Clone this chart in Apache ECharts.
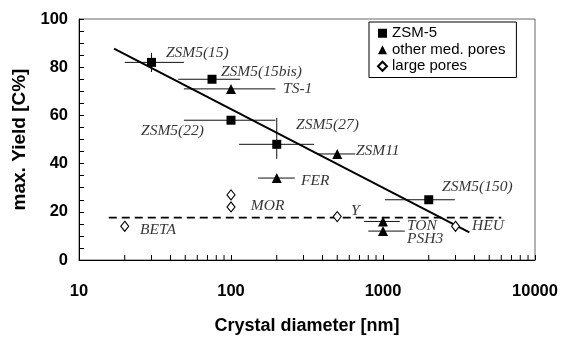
<!DOCTYPE html>
<html>
<head>
<meta charset="utf-8">
<script src="https://cdn.jsdelivr.net/npm/echarts@6/dist/echarts.min.js"></script>
<style>
  html, body { margin: 0; padding: 0; background: #fff; }
  #chart { width: 562px; height: 340px; }
</style>
</head>
<body>
<div id="chart"></div>
<script>
// ---- Data ----
const xTickLabels = [10, 100, 1000, 10000];
const yTickLabels = [0, 20, 40, 60, 80, 100];
const xMinorTicks = [20, 30, 40, 50, 60, 70, 80, 90, 200, 300, 400, 500, 600, 700, 800, 900, 2000, 3000, 4000, 5000, 6000, 7000, 8000, 9000];

// ZSM-5
const zsm5Names = ['ZSM5(15)', 'ZSM5(15bis)', 'ZSM5(22)', 'ZSM5(27)', 'ZSM5(150)'];
const zsm5X = [30, 75, 100, 200, 2000];
const zsm5Y = [82, 75, 58, 48, 25];
const zsm5XLow = [20, 45, 49, 113, 1030];
const zsm5XHigh = [49, 115, 196, 352, 2970];
const zsm5YLow = [78, null, null, 42, null];
const zsm5YHigh = [86, null, null, 59, null];

// other medium pores
const medNames = ['TS-1', 'FER', 'ZSM11', 'TON', 'PSH3'];
const medX = [100, 200, 500, 1000, 1000];
const medY = [71, 34, 44, 16, 12];
const medXLow = [49, 151, 373, 750, 800];
const medXHigh = [196, 263, 658, 1290, 1390];

// large pores
const largeNames = ['BETA', 'MOR', 'MOR', 'Y', 'HEU'];
const largeX = [20, 100, 100, 500, 3000];
const largeY = [14, 27, 22, 18, 14];

// trend lines
const fitX = [17, 3700];
const fitY = [87.7, 11.5];
const dashX = [15.7, 6000];
const dashY = [17.6, 17.6];

// annotation anchors (data units, left-middle of text)
const labelNames = ['ZSM5(15)', 'ZSM5(15bis)', 'TS-1', 'ZSM5(22)', 'ZSM5(27)', 'ZSM11', 'FER', 'ZSM5(150)', 'MOR', 'BETA', 'Y', 'TON', 'PSH3', 'HEU'];
const labelX = [37.3, 85.9, 220, 25.6, 268, 664, 289, 2445, 135, 25.2, 615, 1439, 1439, 3852];
const labelY = [86, 77.9, 70.9, 53.7, 56.1, 45.1, 32.8, 30.3, 22.5, 12.3, 20.5, 14.3, 8.6, 14.3];

// ---- Build ----
const zip2 = (a, b) => a.map((v, i) => [v, b[i]]);
const errData = [];
zsm5X.forEach((x, i) => errData.push([x, zsm5Y[i], zsm5XLow[i], zsm5XHigh[i], zsm5YLow[i], zsm5YHigh[i]]));
medX.forEach((x, i) => errData.push([x, medY[i], medXLow[i], medXHigh[i], null, null]));

const chart = echarts.init(document.getElementById('chart'), null, { renderer: 'canvas' });

const boldSans = 'Liberation Sans, Arial, sans-serif';
const serif = 'Liberation Serif, Times New Roman, serif';

const option = {
  animation: false,
  backgroundColor: '#fff',
  grid: {
    left: 79, right: 27, top: 19, bottom: 77,
    containLabel: false,
    show: true, borderColor: '#666', borderWidth: 1
  },
  legend: {
    left: 369, top: 22,
    orient: 'vertical',
    data: ['ZSM-5', 'other med. pores', 'large pores'],
    itemWidth: 9, itemHeight: 9, itemGap: 0,
    padding: [3, 11, 3, 8],
    borderColor: '#000', borderWidth: 1, borderRadius: 0,
    backgroundColor: '#fff',
    textStyle: { fontFamily: boldSans, fontSize: 15, color: '#000', lineHeight: 16.5 },
    selectedMode: false
  },
  xAxis: {
    type: 'log', logBase: 10, min: 10, max: 10000,
    name: 'Crystal diameter [nm]', nameLocation: 'middle', nameGap: 57,
    nameTextStyle: { fontFamily: boldSans, fontWeight: 'bold', fontSize: 18, color: '#000' },
    axisLine: { lineStyle: { color: '#000', width: 1 } },
    axisTick: { inside: true, length: 5, lineStyle: { color: '#000' } },
    axisLabel: {
      fontFamily: boldSans, fontWeight: 'bold', fontSize: 16.5, color: '#000', margin: 23,
      formatter: v => xTickLabels.includes(Math.round(v)) ? String(Math.round(v)) : ''
    },
    splitLine: { show: false }
  },
  yAxis: {
    type: 'value', min: 0, max: 100, interval: 20,
    name: 'max. Yield [C%]', nameLocation: 'middle', nameGap: 50,
    nameTextStyle: { fontFamily: boldSans, fontWeight: 'bold', fontSize: 19, color: '#000' },
    axisLine: { show: true, lineStyle: { color: '#000', width: 1 } },
    axisTick: { show: true, inside: true, length: 5, lineStyle: { color: '#000' } },
    minorTick: { show: true, splitNumber: 4, length: 5, lineStyle: { color: '#000' } },
    axisLabel: {
      fontFamily: boldSans, fontWeight: 'bold', fontSize: 16.5, color: '#000', margin: 11,
      formatter: v => yTickLabels.includes(v) ? String(v) : ''
    },
    splitLine: { show: false }
  },
  series: [
    {
      type: 'custom', name: 'xminor', silent: true, z: 3,
      data: xMinorTicks.map(v => [v, 0]),
      encode: { x: 0, y: 1 },
      clip: false,
      renderItem: (params, api) => {
        const p = api.coord([api.value(0), 0]);
        return { type: 'line', shape: { x1: p[0], y1: p[1], x2: p[0], y2: p[1] - 5 }, style: { stroke: '#000', lineWidth: 1 } };
      }
    },
    {
      type: 'custom', name: 'errbars', silent: true, z: 2,
      data: errData,
      encode: { x: 0, y: 1 },
      renderItem: (params, api) => {
        const y = api.value(1);
        const a = api.coord([api.value(2), y]);
        const b = api.coord([api.value(3), y]);
        const children = [{ type: 'line', shape: { x1: a[0], y1: a[1], x2: b[0], y2: b[1] }, style: { stroke: '#111', lineWidth: 1 } }];
        const ylo = api.value(4), yhi = api.value(5);
        if (ylo != null && !isNaN(ylo) && yhi != null && !isNaN(yhi)) {
          const c = api.coord([api.value(0), ylo]);
          const d = api.coord([api.value(0), yhi]);
          children.push({ type: 'line', shape: { x1: c[0], y1: c[1], x2: d[0], y2: d[1] }, style: { stroke: '#111', lineWidth: 1 } });
        }
        return { type: 'group', children };
      }
    },
    {
      type: 'line', name: 'fit', data: zip2(fitX, fitY), symbol: 'none', silent: true, z: 4,
      lineStyle: { color: '#000', width: 2 }
    },
    {
      type: 'line', name: 'dash', data: zip2(dashX, dashY), symbol: 'none', silent: true, z: 1,
      lineStyle: { color: '#000', width: 1.6, type: [8, 5] }
    },
    {
      type: 'scatter', name: 'ZSM-5', data: zip2(zsm5X, zsm5Y), symbol: 'rect', symbolSize: 9, z: 5,
      itemStyle: { color: '#000', opacity: 1 }
    },
    {
      type: 'scatter', name: 'other med. pores', data: zip2(medX, medY), symbol: 'triangle', symbolSize: 10, z: 5,
      itemStyle: { color: '#000', opacity: 1 }
    },
    {
      type: 'scatter', name: 'large pores', data: zip2(largeX, largeY), symbol: 'diamond', symbolSize: [8, 10], z: 5,
      itemStyle: { color: '#fff', borderColor: '#000', borderWidth: 1.1, opacity: 1 }
    },
    {
      type: 'scatter', name: 'labels', silent: true, z: 6,
      data: labelNames.map((n, i) => ({ value: [labelX[i], labelY[i]], name: n })),
      symbolSize: 0,
      label: {
        show: true, position: 'right', distance: 0,
        formatter: p => p.name,
        fontFamily: serif, fontStyle: 'italic', fontSize: 15.5, color: '#000'
      }
    }
  ]
};
chart.setOption(option);
</script>
</body>
</html>
